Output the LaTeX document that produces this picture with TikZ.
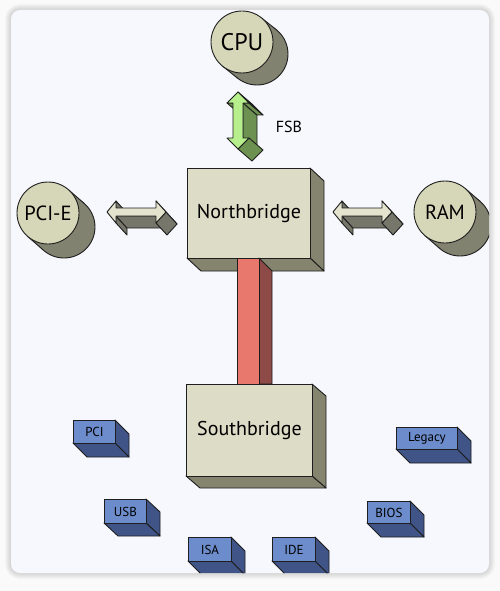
\documentclass[tikz,border=0pt]{standalone}
\usepackage{fontspec}
\setmainfont{PT Sans}
\usetikzlibrary{calc}
\definecolor{bgout}{HTML}{FAFAFA}
\definecolor{panel}{HTML}{F7F8FD}
\definecolor{ink}{HTML}{1E1E1E}
\definecolor{nbfront}{HTML}{DDDCC6}
\definecolor{nbside}{HTML}{84846F}
\definecolor{bxfront}{HTML}{6C8CCB}
\definecolor{bxside}{HTML}{405488}
\definecolor{diskfront}{HTML}{D6D6B8}
\definecolor{diskside}{HTML}{828270}
\definecolor{arrfront}{HTML}{E3E3CE}
\definecolor{arrside}{HTML}{76766A}
\definecolor{gfront}{HTML}{B6EF8C}
\definecolor{gside}{HTML}{6D9150}
\definecolor{rfront}{HTML}{E8776E}
\definecolor{rside}{HTML}{8E4A46}
\tikzset{
  edge/.style={draw=ink, line width=0.9pt, line join=round},
  nb front/.style={fill=nbfront, font=\fontsize{20}{24}\selectfont},
  bx front/.style={fill=bxfront, font=\fontsize{13}{15}\selectfont},
  disklabel/.style={font=\fontsize{20.5}{24}\selectfont},
  fsblabel/.style={font=\fontsize{16}{19}\selectfont},
}
\def\diskr{31pt}
% quad face from (#1,#2)-(#3,#4) extruded by (#5,#6), colour #7
\newcommand\face[7]{\path[edge, fill=#7] (#1,#2) -- (#3,#4) -- ({#3+#5},{#4+#6}) -- ({#1+#5},{#2+#6}) -- cycle;}
% box: name, x1, y1, x2, y2, dx, dy, kind, label
\newcommand\solidbox[9]{%
  \face{#4}{#3}{#4}{#5}{#6}{#7}{#8side}
  \face{#2}{#5}{#4}{#5}{#6}{#7}{#8side}
  \node[edge, #8 front, inner sep=0pt, minimum width={(#4-#2)*1pt}, minimum height={(#5-#3)*1pt}, anchor=north west] (#1) at (#2,#3) {#9};
}
% disk: name, x, y, dx, dy, label
\newcommand\disk[6]{%
  \coordinate (#1-c) at (#2,#3);
  \coordinate (#1-b) at ({#2+#4},{#3+#5});
  \path[edge, fill=diskside] (#1-b) circle[radius=\diskr];
  \fill[diskside] ($(#1-c)!\diskr!90:(#1-b)$) -- ($(#1-b)!\diskr!-90:(#1-c)$) -- ($(#1-b)!\diskr!90:(#1-c)$) -- ($(#1-c)!\diskr!-90:(#1-b)$) -- cycle;
  \draw[edge] ($(#1-c)!\diskr!90:(#1-b)$) -- ($(#1-b)!\diskr!-90:(#1-c)$);
  \draw[edge] ($(#1-c)!\diskr!-90:(#1-b)$) -- ($(#1-b)!\diskr!90:(#1-c)$);
  \node[edge, circle, fill=diskfront, minimum size=62pt, inner sep=0pt, disklabel] (#1) at (#1-c) {#6};
}
% horizontal double arrow, left tip x = #1, centre y = #2
\newcommand\harrow[2]{%
  \begin{scope}[shift={(#1,#2)}]
    \face{9}{-11}{9}{-4}{11}{12}{arrside}
    \face{9}{4}{9}{11}{11}{12}{arrside}
    \face{49}{4}{9}{4}{11}{12}{arrside}
    \face{49}{-11}{59}{0}{11}{12}{arrside}
    \face{59}{0}{49}{11}{11}{12}{arrside}
    \path[edge, fill=arrfront] (0,0) -- (9,-11) -- (9,-4) -- (49,-4) -- (49,-11) -- (59,0) -- (49,11) -- (49,4) -- (9,4) -- (9,11) -- cycle;
  \end{scope}
}
\begin{document}
\begin{tikzpicture}[x=1pt, y=-1pt]
\useasboundingbox (0,0) rectangle (500,591);
\fill[bgout] (0,0) rectangle (500,591);
\foreach \i in {1,...,6}
  \draw[black, opacity=0.025, line width={2*\i*1pt}, rounded corners=9pt] (11,10) rectangle (489,573);
\fill[panel, rounded corners=9pt] (11,10) rectangle (489,573);
\begin{scope}
\clip[rounded corners=9pt] (11,10) rectangle (489,573);

% CPU, PCI-E, RAM
\disk{cpu}{242}{42}{15}{12}{\fontsize{24}{28}\selectfont CPU}
\disk{pcie}{48}{213}{16}{14}{PCI-E}
\disk{ram}{445}{212}{15}{13}{RAM}

% FSB arrow
\face{227}{103}{233}{103}{14}{12}{gside}
\face{243}{103}{243}{138}{14}{12}{gside}
\face{249}{103}{243}{103}{14}{12}{gside}
\face{238}{92}{249}{103}{14}{12}{gside}
\face{249}{138}{238}{149}{14}{12}{gside}
\path[edge, fill=gfront] (238,92) -- (249,103) -- (243,103) -- (243,138) -- (249,138) -- (238,149) -- (227,138) -- (233,138) -- (233,103) -- (227,103) -- cycle;
\node[fsblabel] (fsb) at (289,127) {FSB};

% side arrows
\harrow{107}{212}
\harrow{333}{212}

% Northbridge
\solidbox{nb}{187}{168}{310}{258}{14}{13}{nb}{Northbridge}

% link
\path[edge, fill=rside] (259,258) -- (272,271) -- (272,384) -- (259,384) -- cycle;
\path[edge, fill=rfront] (237,258) rectangle (259,384);

% Southbridge
\solidbox{sb}{186}{384}{312}{476}{14}{12}{nb}{Southbridge}

% small devices
\solidbox{pci}{73}{420}{115}{443}{14}{14}{bx}{PCI}
\solidbox{usb}{104}{499}{146}{523}{14}{13}{bx}{USB}
\solidbox{isa}{188}{537}{231}{561}{14}{14}{bx}{ISA}
\solidbox{ide}{272}{537}{315}{561}{14}{14}{bx}{IDE}
\solidbox{legacy}{396}{427}{457}{449}{14}{14}{bx}{Legacy}
\solidbox{bios}{367}{501}{410}{523}{14}{14}{bx}{BIOS}
\end{scope}
\end{tikzpicture}
\end{document}
